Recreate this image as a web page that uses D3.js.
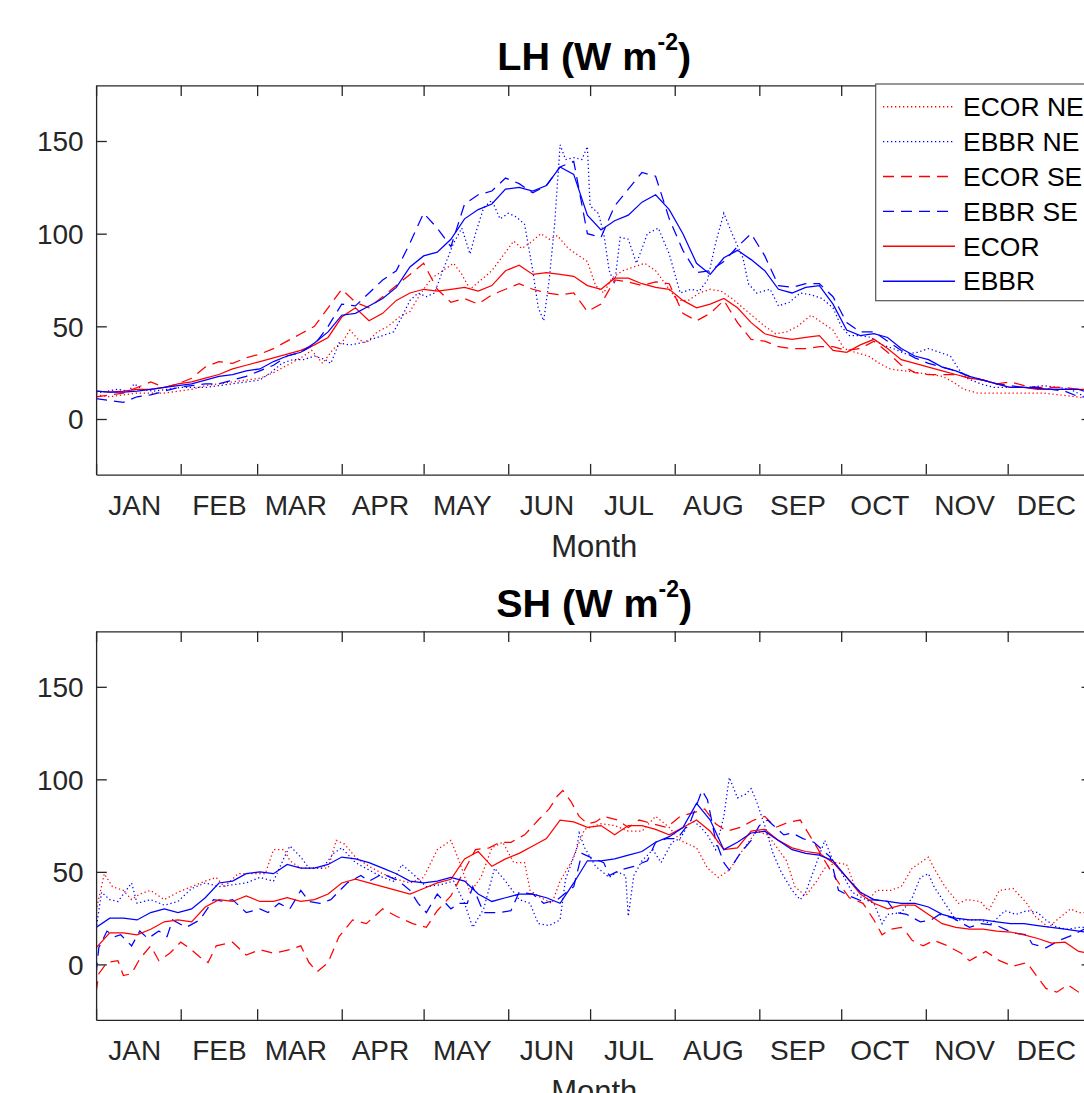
<!DOCTYPE html>
<html>
<head>
<meta charset="utf-8">
<script src="https://cdn.jsdelivr.net/npm/d3@7"></script>
<style>
  body { margin: 0; background: #fff; }
  svg { display: block; font-family: "Liberation Sans", Arial, Helvetica, sans-serif; }
</style>
</head>
<body>
<svg id="chart" width="1084" height="1093"></svg>
<script>
// month axis
const monthNames = ['JAN','FEB','MAR','APR','MAY','JUN','JUL','AUG','SEP','OCT','NOV','DEC'];
const monthStart = [1,32,60,91,121,152,182,213,244,274,305,335];
const monthMid   = [15,46,74,105,135,166,196,227,258,288,319,349];
const yTicks = [0,50,100,150];

// 5-day sampling grid used by the smoother series
const days5 = [1,6,11,16,21,26,31,36,41,46, 51,56,61,66,71,76,81,86,91,96,
  101,106,111,116,121,126,131,136,141,146, 151,156,161,166,171,176,181,186,191,196,
  201,206,211,216,221,226,231,236,241,246, 251,256,261,266,271,276,281,286,291,296,
  301,306,311,316,321,326,331,336,341,346, 351,356,361,365];

// ---- LH (W m-2) ----
const lhEcor = [15,14.5,15,16,16,17,19,20,22,24, 27,29,31,33,35,37,40,44,55,60,
  53,57,64,68,70,69,70,71,69,72, 80,83,78,79,78,77,72,70,76,76,
  73,71,70,64,60,62,65,60,52,46, 44,43,44,45,37,36,40,43,38,32,
  30,28,26,24,22,21,19,17,17,16, 16,16,16,16];
const lhEbbr = [15,14.5,14.5,15,16,17,18,19,21,23, 24,26,27,31,34,36,41,47,56,57,
  61,65,71,82,88,90,97,108,113,116, 124,125,123,126,136,132,110,102,107,110,
  117,121,113,100,84,78,87,91,86,80, 70,68,71,72,62,48,45,46,44,38,
  34,32,28,26,23,21,19,17,17,16.5, 16,16,16,14];
const lhEcorSE = [12,13,14,17,20,17,19,22,28,31, 30,33,35,38,42,46,50,60,70,63,
  60,66,72,78,84,70,63,65,62,67, 70,73,70,68,67,68,58,62,75,74,
  72,74,73,57,53,57,64,52,43,42, 39,38,38,39,39,37,38,42,36,29,
  25,24,24,24,22,21,19,20,18,17, 17,17,16,16];
const lhEbbrSE = [11,10,9,12,13,15,17,18,19,19, 21,23,26,29,34,36,40,50,62,61,
  68,75,80,95,111,103,93,116,121,123, 130,127,122,126,136,139,100,98,115,124,
  133,131,108,91,79,80,85,93,100,88, 72,71,73,73,66,52,47,47,42,37,
  33,30,28,26,23,21,19,18,17,17, 16,15,12,12];
const lhEcorNE = [[1,13],[6,12],[11,13],[16,14],[21,14],[26,14],[31,15],[36,16],[41,18],[46,19],
  [51,20],[56,21],[61,22],[66,25],[71,29],[76,33],[80,37],[84,30],[88,38],[91,41],[94,48],[97,43],
  [100,41],[104,47],[108,50],[112,55],[116,58],[120,68],[124,76],[128,80],[132,84],[135,78],[138,70],
  [142,75],[146,80],[150,88],[154,96],[157,92],[160,95],[164,100],[167,97],[170,99],[174,92],[178,88],
  [181,85],[184,72],[187,68],[190,76],[194,80],[198,82],[202,84],[206,80],[210,72],[214,64],[218,64],
  [222,68],[226,70],[230,69],[234,65],[238,60],[242,55],[246,50],[250,46],[254,47],[258,50],[263,56],
  [267,52],[271,48],[275,38],[279,36],[284,34],[288,30],[292,27],[297,26],[302,25],[307,24],[311,23],
  [315,20],[319,16],[324,14],[330,14],[336,14],[342,14],[348,14],[354,13],[360,12],[365,11]];
const lhEbbrNE = [[1,14],[5,15],[9,16],[13,15],[15,19],[18,16],[22,15],[27,16],[32,17],[37,17],
  [41,17],[46,18],[51,19],[56,20],[61,21],[65,25],[69,30],[73,32],[77,32],[81,34],[85,32],[87,30],
  [90,41],[94,40],[98,41],[102,43],[106,45],[110,47],[113,55],[116,64],[119,68],[122,66],[125,68],
  [128,80],[132,95],[135,103],[138,89],[140,100],[143,114],[146,118],[149,108],[152,111],[155,109],
  [158,105],[161,80],[163,60],[165,53],[167,75],[169,105],[171,148],[173,140],[176,141],[179,140],
  [181,147],[182,115],[185,111],[187,100],[189,80],[191,73],[193,98],[196,97],[199,84],[203,100],
  [207,103],[211,89],[215,68],[219,70],[222,69],[225,75],[228,95],[231,111],[234,100],[238,87],
  [240,73],[243,68],[248,70],[251,61],[255,63],[259,68],[263,67],[267,65],[271,60],[274,50],[277,45],
  [281,45],[285,44],[289,40],[293,38],[298,35],[302,36],[306,38],[310,36],[314,34],[317,27],[320,22],
  [325,19],[330,17],[336,17],[342,17],[348,18],[354,17],[358,16],[362,13],[365,12]];

// ---- SH (W m-2) ----
const shEcor = [9,17,17,16,19,23,24,23,31,35, 34,37,34,34,36,34,35,38,44,46,
  44,42,40,38,41,44,46,57,61,53, 57,60,64,68,78,77,74,75,70,75,
  75,73,70,74,78,72,62,63,72,73, 67,63,61,60,55,47,38,33,30,32,
  32,27,22,20,19,19,18,17.5,16,14, 11.5,12,7,6];
const shEbbr = [20,25,25,24,28,30,28,30,36,44, 45,49,50,49,54,52,52,54,58,57,
  55,52,49,45,44,45,47,45,38,34, 36,38,38,36,33,44,56,56,57,59,
  61,66,69,74,87,78,62,66,71,72, 67,62,60,59,56,47,39,35,34,33,
  33,31,27,25,24,24,23,22,22,21, 20,19,18,17];
const shEcorSE = [[1,-15],[2,-5],[5,1],[9,2],[11,-6],[14,-5],[17,3],[21,10],[24,2],[28,6],[32,12],
  [35,9],[39,4],[42,1],[45,10],[51,12],[56,5],[61,8],[66,6],[72,8],[76,10],[79,1],[82,-4],[86,1],
  [90,15],[95,24],[100,22],[106,30],[111,26],[117,22],[122,20],[126,29],[131,37],[136,51],[140,62],
  [145,63],[149,66],[153,66],[158,70],[163,78],[167,84],[170,91],[172,94],[175,88],[178,80],[181,76],
  [184,77],[187,80],[192,78],[196,74],[200,78],[205,76],[210,74],[215,80],[220,82],[224,84],[228,76],
  [232,72],[237,74],[242,78],[246,80],[250,74],[255,77],[259,78],[264,66],[270,51],[274,42],[277,36],
  [282,33],[286,24],[289,16],[292,19],[296,20],[298,17],[300,13],[304,10],[308,13],[313,10],[318,6],
  [321,2],[327,7],[332,2],[337,-1],[342,1],[346,-7],[349,-13],[353,-15],[357,-11],[361,-15],[365,-12]];
const shEbbrSE = [[1,-5],[2,9],[5,18],[8,15],[10,16],[14,10],[17,18],[20,14],[24,18],[27,15],[29,24],
  [34,20],[39,24],[44,35],[48,34],[51,35],[56,28],[61,30],[64,28],[68,33],[72,30],[76,40],[79,34],
  [83,33],[87,35],[93,44],[98,48],[101,45],[106,49],[112,45],[116,40],[119,33],[122,28],[126,38],
  [131,30],[134,33],[137,33],[139,42],[143,28],[149,28],[153,29],[156,39],[161,38],[165,33],[170,35],
  [176,42],[179,60],[182,58],[187,55],[189,48],[193,51],[198,53],[203,56],[206,66],[210,68],[214,68],
  [219,78],[223,94],[225,89],[228,67],[231,55],[233,51],[237,60],[241,67],[244,75],[247,78],[250,74],
  [253,70],[256,71],[260,68],[264,66],[267,62],[270,58],[273,40],[277,37],[282,34],[286,35],[291,34],
  [294,28],[298,27],[303,23],[307,24],[310,27],[315,25],[321,20],[325,22],[331,21],[337,17],[342,16],
  [344,11],[349,9],[354,13],[359,16],[363,19],[365,18]];
const shEcorNE = [[1,29],[4,49],[7,42],[11,40],[14,35],[17,38],[21,40],[26,35],[31,39],[36,42],
  [41,45],[45,47],[48,42],[53,49],[58,49],[63,49],[66,62],[70,62],[72,56],[76,52],[81,52],[86,52],
  [89,67],[92,65],[96,58],[101,53],[106,49],[111,46],[116,44],[121,47],[126,62],[131,67],[134,56],
  [138,39],[142,47],[146,63],[150,66],[154,55],[158,55],[160,40],[164,36],[168,33],[171,45],[175,55],
  [180,73],[186,76],[191,75],[196,72],[201,72],[206,80],[211,74],[215,67],[221,63],[225,52],[229,47],
  [233,51],[238,62],[243,72],[247,70],[251,62],[254,56],[257,42],[261,37],[265,45],[268,52],[272,55],
  [276,54],[279,42],[284,35],[287,40],[292,40],[296,42],[300,52],[303,55],[306,58],[308,52],[312,42],
  [317,33],[320,35],[325,34],[328,29],[332,40],[337,41],[342,33],[345,26],[350,20],[353,24],[358,30],
  [361,28],[365,28]];
const shEbbrNE = [[1,19],[3,39],[6,35],[9,34],[14,44],[16,33],[21,35],[26,32],[31,34],[36,41],
  [41,44],[46,42],[51,43],[56,44],[61,47],[66,45],[70,58],[72,64],[76,58],[79,52],[84,52],[88,60],
  [91,63],[96,55],[101,51],[106,47],[110,45],[113,54],[117,49],[122,42],[127,43],[132,45],[136,33],
  [139,20],[143,30],[147,52],[151,45],[156,35],[160,33],[163,22],[167,21],[171,24],[173,46],[177,62],
  [178,71],[180,63],[184,53],[189,47],[192,50],[195,48],[196,26],[198,48],[201,56],[205,62],[208,55],
  [212,66],[215,68],[219,78],[222,75],[225,70],[228,62],[231,80],[233,101],[236,90],[239,92],[241,95],
  [243,88],[246,75],[249,60],[252,50],[256,40],[259,35],[261,39],[265,55],[268,67],[271,56],[274,50],
  [278,39],[283,35],[286,33],[289,22],[291,27],[296,28],[300,36],[303,47],[306,49],[308,42],[312,33],
  [316,24],[321,24],[325,24],[329,22],[334,29],[338,27],[342,29],[346,28],[349,24],[353,20],[357,19],
  [361,20],[365,20]];

// line styles, same order as legend
const styles = {
  'ECOR NE': {color:'#ff0000', dash:'1.3,2.7'},
  'EBBR NE': {color:'#0000ff', dash:'1.3,2.7'},
  'ECOR SE': {color:'#ff0000', dash:'11,7'},
  'EBBR SE': {color:'#0000ff', dash:'11,7'},
  'ECOR':    {color:'#ff0000', dash:null},
  'EBBR':    {color:'#0000ff', dash:null}
};
const legendOrder = ['ECOR NE','EBBR NE','ECOR SE','EBBR SE','ECOR','EBBR'];

function onGrid(vals){ return days5.map((d,i) => [d, vals[i]]); }

const panels = [
  {title:'LH', top:85.4, bottom:474.6, titleY:70,
   series:{'ECOR NE':lhEcorNE,'EBBR NE':lhEbbrNE,'ECOR SE':onGrid(lhEcorSE),'EBBR SE':onGrid(lhEbbrSE),'ECOR':onGrid(lhEcor),'EBBR':onGrid(lhEbbr)}},
  {title:'SH', top:631.3, bottom:1019.9, titleY:616.7,
   series:{'ECOR NE':shEcorNE,'EBBR NE':shEbbrNE,'ECOR SE':shEcorSE,'EBBR SE':shEbbrSE,'ECOR':onGrid(shEcor),'EBBR':onGrid(shEbbr)}}
];

const svg = d3.select('#chart');
const left = 96.1, right = 1092.3;
const x = d3.scaleLinear().domain([1,366]).range([left,right]);
const axisColor = '#262626';
const tick = 10.7;

panels.forEach((p,pi) => {
  const y = d3.scaleLinear().domain([-30,180]).range([p.bottom,p.top]);

  // clip for the lines
  svg.append('clipPath').attr('id','clip'+pi)
    .append('rect').attr('x',left).attr('y',p.top).attr('width',right-left).attr('height',p.bottom-p.top);

  const line = d3.line().x(d => x(d[0])).y(d => y(d[1]));
  const gLines = svg.append('g').attr('clip-path','url(#clip'+pi+')');
  legendOrder.forEach(name => {
    const st = styles[name];
    gLines.append('path')
      .attr('d', line(p.series[name]))
      .attr('fill','none')
      .attr('stroke', st.color)
      .attr('stroke-width', 1.25)
      .attr('stroke-dasharray', st.dash);
  });

  // axes (box with inward ticks)
  const gl = svg.append('g').attr('transform',`translate(${left},0)`)
    .call(d3.axisLeft(y).tickValues(yTicks).tickSizeInner(-tick).tickSizeOuter(0).tickPadding(12.5));
  const gr = svg.append('g').attr('transform',`translate(${right},0)`)
    .call(d3.axisRight(y).tickValues(yTicks).tickSizeInner(-tick).tickSizeOuter(0).tickFormat(''));
  const gb = svg.append('g').attr('transform',`translate(0,${p.bottom})`)
    .call(d3.axisBottom(x).tickValues(monthStart).tickSizeInner(-tick).tickSizeOuter(0).tickFormat(''));
  const gt = svg.append('g').attr('transform',`translate(0,${p.top})`)
    .call(d3.axisTop(x).tickValues(monthStart).tickSizeInner(-tick).tickSizeOuter(0).tickFormat(''));
  const gm = svg.append('g').attr('transform',`translate(0,${p.bottom})`)
    .call(d3.axisBottom(x).tickValues(monthMid).tickSize(0).tickFormat((d,i) => monthNames[i]));
  gm.select('.domain').remove();
  gm.selectAll('text').attr('y',40.5).attr('dy',null);

  [gl,gr,gb,gt,gm].forEach(g => {
    g.attr('font-family',null).attr('font-size',null);
    g.selectAll('.domain').attr('stroke',axisColor).attr('stroke-width',1.3);
    g.selectAll('.tick line').attr('stroke',axisColor).attr('stroke-width',1.3);
    g.selectAll('.tick text').attr('fill',axisColor).style('font-size','28px');
  });
  gl.selectAll('.tick text').attr('dy','0.35em');

  // x label (the lower one runs past the bottom edge, as in the original figure)
  svg.append('text').attr('x',594.3).attr('y',p.bottom+82)
    .attr('text-anchor','middle').attr('fill',axisColor).style('font-size','31px').text('Month');

  // title with superscript
  const t = svg.append('text').attr('x',594.2).attr('y',p.titleY)
    .attr('text-anchor','middle').attr('font-weight','bold').style('font-size','39.5px').attr('fill','#000');
  t.append('tspan').text(p.title + ' (W m');
  t.append('tspan').attr('dy',-20).style('font-size','23px').text('-2');
  t.append('tspan').attr('dy',20).text(')');
});

// legend (top panel, extends past right edge)
const lg = svg.append('g');
lg.append('rect').attr('x',875.7).attr('y',84).attr('width',260).attr('height',216.7)
  .attr('fill','#fff').attr('stroke','#555').attr('stroke-width',1.2);
legendOrder.forEach((name,i) => {
  const cy = 106.7 + i*34.9;
  const st = styles[name];
  lg.append('line').attr('x1',883).attr('x2',955).attr('y1',cy).attr('y2',cy)
    .attr('stroke',st.color).attr('stroke-width',1.4).attr('stroke-dasharray',st.dash);
  lg.append('text').attr('x',963).attr('y',cy).attr('dy','0.35em')
    .style('font-size','26.5px').attr('fill','#000').text(name);
});
</script>
</body>
</html>
